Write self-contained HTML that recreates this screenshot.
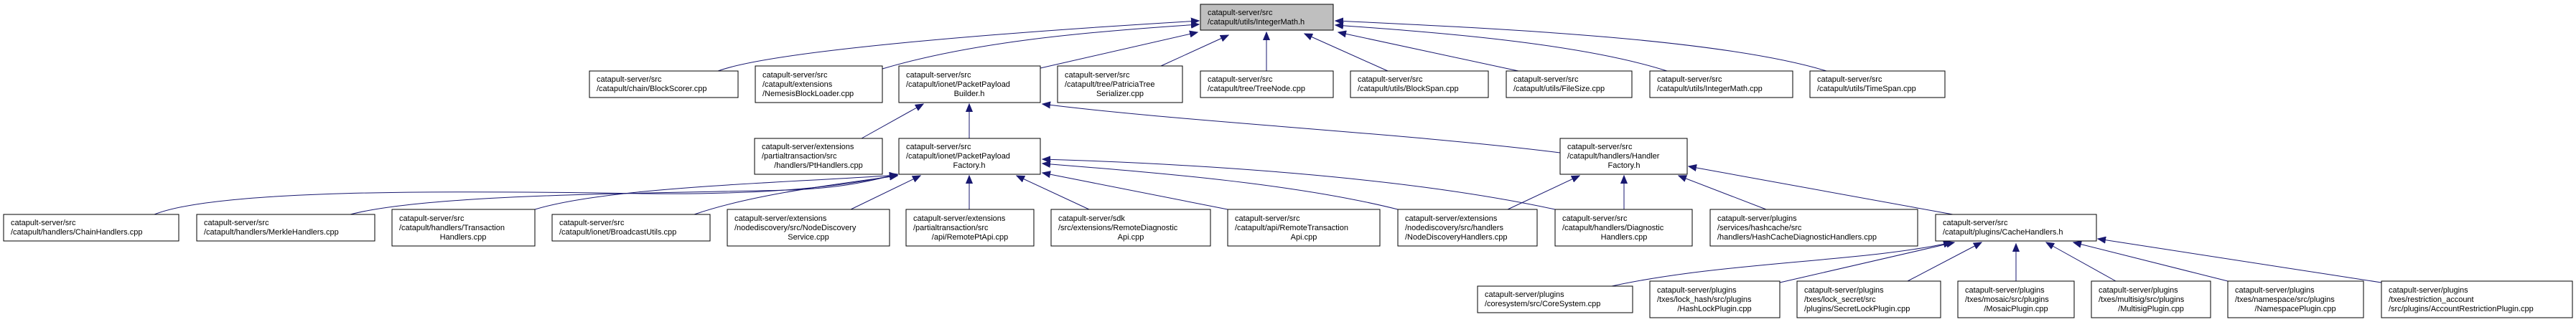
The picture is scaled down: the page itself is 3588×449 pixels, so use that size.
<!DOCTYPE html>
<html><head><meta charset="utf-8"><style>
html,body{margin:0;padding:0;background:#fff;width:3588px;height:449px;overflow:hidden}
svg{display:block}
text{font-family:"Liberation Sans",Arial,sans-serif;font-size:11px;fill:#000}
rect{fill:#fff;stroke:#000;stroke-width:1}
path{fill:none;stroke:#191970;stroke-width:1}
</style></head><body>
<svg width="3588" height="449" viewBox="0 0 3588 449" xmlns="http://www.w3.org/2000/svg">
<defs><marker id="a" markerUnits="userSpaceOnUse" markerWidth="12" markerHeight="10" refX="11" refY="5" orient="auto"><path d="M0,0.5 L11,5 L0,9.5 Z" style="fill:#191970;stroke:#191970"/></marker></defs>
<g marker-end="url(#a)">
<path d="M1000,99 C1080,70 1400,45 1670,29"/>
<path d="M1229,96 C1350,60 1500,45 1670,34"/>
<path d="M1449,95 L1668,45"/>
<path d="M1617,92 L1711,49"/>
<path d="M1764,99 L1764,45"/>
<path d="M1933,99 L1817,47"/>
<path d="M2115,99 L1864,45"/>
<path d="M2322,99 C2200,60 2000,45 1860,35"/>
<path d="M2544,99 C2400,55 2100,40 1860,29"/>
<path d="M1200,193 L1286,145"/>
<path d="M1350,193 L1350,145"/>
<path d="M2173,213 C1950,185 1650,170 1452,145"/>
<path d="M215,299 C300,265 600,265 900,270 C1100,272 1200,255 1250,243"/>
<path d="M488,299 C600,270 900,270 1100,265 C1180,262 1220,250 1250,243"/>
<path d="M745,292 C850,260 1100,255 1250,244"/>
<path d="M967,299 C1050,270 1180,255 1250,245"/>
<path d="M1185,292 L1282,245"/>
<path d="M1350,292 L1350,245"/>
<path d="M1517,292 L1416,245"/>
<path d="M1710,292 L1452,241"/>
<path d="M1947,292 C1800,255 1600,240 1452,228"/>
<path d="M2166,292 C1950,245 1650,228 1452,222"/>
<path d="M2100,292 L2200,245"/>
<path d="M2262,292 L2262,245"/>
<path d="M2460,292 L2338,245"/>
<path d="M2720,299 L2352,232"/>
<path d="M2245,399 C2400,365 2600,365 2718,338"/>
<path d="M2479,394 L2722,338"/>
<path d="M2657,392 L2760,338"/>
<path d="M2808,392 L2808,340"/>
<path d="M2947,392 L2850,338"/>
<path d="M3103,392 L2888,338"/>
<path d="M3317,394 L2922,333"/>
</g>
<rect x="1672" y="6" width="185" height="36" style="fill:#bfbfbf"/>
<text x="1682" y="21">catapult-server/src</text><text x="1682" y="34">/catapult/utils/IntegerMath.h</text>

<rect x="821" y="99" width="207" height="37"/><text x="831" y="114">catapult-server/src</text><text x="831" y="127">/catapult/chain/BlockScorer.cpp</text>
<rect x="1052" y="92" width="177" height="51"/><text x="1062" y="108">catapult-server/src</text><text x="1062" y="121">/catapult/extensions</text><text x="1062" y="134">/NemesisBlockLoader.cpp</text>
<rect x="1252" y="92" width="197" height="51"/><text x="1262" y="108">catapult-server/src</text><text x="1262" y="121">/catapult/ionet/PacketPayload</text><text x="1350" y="134" text-anchor="middle">Builder.h</text>
<rect x="1473" y="92" width="174" height="51"/><text x="1483" y="108">catapult-server/src</text><text x="1483" y="121">/catapult/tree/PatriciaTree</text><text x="1560" y="134" text-anchor="middle">Serializer.cpp</text>
<rect x="1672" y="99" width="185" height="37"/><text x="1682" y="114">catapult-server/src</text><text x="1682" y="127">/catapult/tree/TreeNode.cpp</text>
<rect x="1881" y="99" width="192" height="37"/><text x="1891" y="114">catapult-server/src</text><text x="1891" y="127">/catapult/utils/BlockSpan.cpp</text>
<rect x="2098" y="99" width="175" height="37"/><text x="2108" y="114">catapult-server/src</text><text x="2108" y="127">/catapult/utils/FileSize.cpp</text>
<rect x="2298" y="99" width="199" height="37"/><text x="2308" y="114">catapult-server/src</text><text x="2308" y="127">/catapult/utils/IntegerMath.cpp</text>
<rect x="2521" y="99" width="188" height="37"/><text x="2531" y="114">catapult-server/src</text><text x="2531" y="127">/catapult/utils/TimeSpan.cpp</text>

<rect x="1051" y="193" width="178" height="50"/><text x="1061" y="208">catapult-server/extensions</text><text x="1061" y="221">/partialtransaction/src</text><text x="1140" y="234" text-anchor="middle">/handlers/PtHandlers.cpp</text>
<rect x="1252" y="193" width="197" height="50"/><text x="1262" y="208">catapult-server/src</text><text x="1262" y="221">/catapult/ionet/PacketPayload</text><text x="1350" y="234" text-anchor="middle">Factory.h</text>
<rect x="2173" y="193" width="177" height="50"/><text x="2183" y="208">catapult-server/src</text><text x="2183" y="221">/catapult/handlers/Handler</text><text x="2262" y="234" text-anchor="middle">Factory.h</text>

<rect x="5" y="299" width="244" height="37"/><text x="15" y="314">catapult-server/src</text><text x="15" y="327">/catapult/handlers/ChainHandlers.cpp</text>
<rect x="274" y="299" width="248" height="37"/><text x="284" y="314">catapult-server/src</text><text x="284" y="327">/catapult/handlers/MerkleHandlers.cpp</text>
<rect x="546" y="292" width="199" height="51"/><text x="556" y="308">catapult-server/src</text><text x="556" y="321">/catapult/handlers/Transaction</text><text x="645" y="334" text-anchor="middle">Handlers.cpp</text>
<rect x="769" y="299" width="220" height="37"/><text x="779" y="314">catapult-server/src</text><text x="779" y="327">/catapult/ionet/BroadcastUtils.cpp</text>
<rect x="1013" y="292" width="226" height="51"/><text x="1023" y="308">catapult-server/extensions</text><text x="1023" y="321">/nodediscovery/src/NodeDiscovery</text><text x="1126" y="334" text-anchor="middle">Service.cpp</text>
<rect x="1262" y="292" width="178" height="51"/><text x="1272" y="308">catapult-server/extensions</text><text x="1272" y="321">/partialtransaction/src</text><text x="1351" y="334" text-anchor="middle">/api/RemotePtApi.cpp</text>
<rect x="1464" y="292" width="222" height="51"/><text x="1474" y="308">catapult-server/sdk</text><text x="1474" y="321">/src/extensions/RemoteDiagnostic</text><text x="1575" y="334" text-anchor="middle">Api.cpp</text>
<rect x="1710" y="292" width="212" height="51"/><text x="1720" y="308">catapult-server/src</text><text x="1720" y="321">/catapult/api/RemoteTransaction</text><text x="1816" y="334" text-anchor="middle">Api.cpp</text>
<rect x="1947" y="292" width="194" height="51"/><text x="1957" y="308">catapult-server/extensions</text><text x="1957" y="321">/nodediscovery/src/handlers</text><text x="1957" y="334">/NodeDiscoveryHandlers.cpp</text>
<rect x="2166" y="292" width="191" height="51"/><text x="2176" y="308">catapult-server/src</text><text x="2176" y="321">/catapult/handlers/Diagnostic</text><text x="2262" y="334" text-anchor="middle">Handlers.cpp</text>
<rect x="2382" y="292" width="289" height="51"/><text x="2392" y="308">catapult-server/plugins</text><text x="2392" y="321">/services/hashcache/src</text><text x="2392" y="334">/handlers/HashCacheDiagnosticHandlers.cpp</text>
<rect x="2696" y="299" width="224" height="37"/><text x="2706" y="314">catapult-server/src</text><text x="2706" y="327">/catapult/plugins/CacheHandlers.h</text>

<rect x="2058" y="399" width="216" height="37"/><text x="2068" y="414">catapult-server/plugins</text><text x="2068" y="427">/coresystem/src/CoreSystem.cpp</text>
<rect x="2298" y="392" width="181" height="51"/><text x="2308" y="408">catapult-server/plugins</text><text x="2308" y="421">/txes/lock_hash/src/plugins</text><text x="2388" y="434" text-anchor="middle">/HashLockPlugin.cpp</text>
<rect x="2503" y="392" width="200" height="51"/><text x="2513" y="408">catapult-server/plugins</text><text x="2513" y="421">/txes/lock_secret/src</text><text x="2513" y="434">/plugins/SecretLockPlugin.cpp</text>
<rect x="2727" y="392" width="162" height="51"/><text x="2737" y="408">catapult-server/plugins</text><text x="2737" y="421">/txes/mosaic/src/plugins</text><text x="2808" y="434" text-anchor="middle">/MosaicPlugin.cpp</text>
<rect x="2913" y="392" width="166" height="51"/><text x="2923" y="408">catapult-server/plugins</text><text x="2923" y="421">/txes/multisig/src/plugins</text><text x="2996" y="434" text-anchor="middle">/MultisigPlugin.cpp</text>
<rect x="3103" y="392" width="189" height="51"/><text x="3113" y="408">catapult-server/plugins</text><text x="3113" y="421">/txes/namespace/src/plugins</text><text x="3197" y="434" text-anchor="middle">/NamespacePlugin.cpp</text>
<rect x="3317" y="392" width="266" height="51"/><text x="3327" y="408">catapult-server/plugins</text><text x="3327" y="421">/txes/restriction_account</text><text x="3327" y="434">/src/plugins/AccountRestrictionPlugin.cpp</text>
</svg>
</body></html>
